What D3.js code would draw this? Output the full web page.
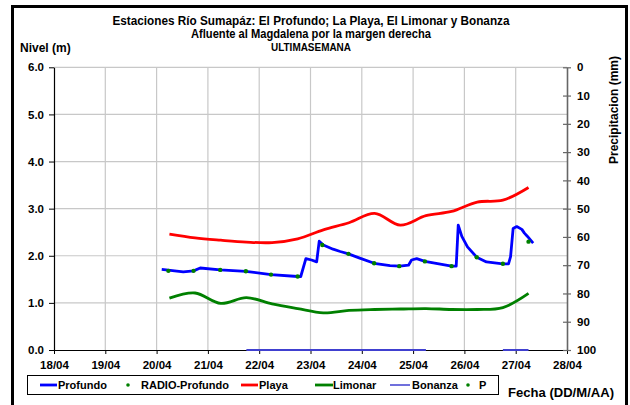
<!DOCTYPE html>
<html><head><meta charset="utf-8">
<script src="https://cdn.jsdelivr.net/npm/d3@7"></script>
<style>body{margin:0;background:#fff}svg{display:block}text{font-family:"Liberation Sans",Arial,sans-serif;font-weight:bold;fill:#000}</style>
</head><body><svg id="c" width="630" height="405"></svg>
<script>
// Days are April day-of-month (fractional)
const xTicks = [18,19,20,21,22,23,24,25,26,27,28];
const yLeftTicks = [0,1,2,3,4,5,6];
const yRightTicks = [0,10,20,30,40,50,60,70,80,90,100];

const profundoDays = [20.10,20.52,20.72,20.85,21.24,21.74,22.23,22.75,22.81,22.91,23.02,23.12,23.17,23.25,23.44,23.58,23.74,23.96,24.24,24.55,24.74,24.91,24.97,25.07,25.23,25.75,25.84,25.88,25.95,26.06,26.24,26.43,26.75,26.86,26.90,26.95,27.02,27.12,27.17,27.23,27.34];
const profundoVals = [1.71,1.66,1.68,1.74,1.70,1.67,1.60,1.56,1.56,1.94,1.91,1.87,2.31,2.23,2.14,2.09,2.04,1.95,1.84,1.79,1.78,1.80,1.91,1.94,1.88,1.78,1.78,2.65,2.41,2.19,1.97,1.87,1.83,1.83,1.98,2.58,2.62,2.56,2.48,2.41,2.27];

const radioDays = [20.23,20.72,21.24,21.74,22.23,22.75,23.23,23.74,24.24,24.73,25.23,25.75,26.24,26.75,27.25];
const radioVals = [1.68,1.68,1.70,1.67,1.60,1.56,2.23,2.04,1.84,1.78,1.88,1.78,1.97,1.83,2.30];

const halfDays = [20.25,20.75,21.25,21.75,22.25,22.75,23.25,23.75,24.25,24.75,25.25,25.75,26.25,26.75,27.25];
const playaVals = [2.46,2.38,2.33,2.29,2.28,2.36,2.55,2.70,2.90,2.65,2.85,2.94,3.14,3.18,3.45];
const limonarVals = [1.10,1.21,0.99,1.11,0.98,0.88,0.79,0.84,0.86,0.87,0.88,0.86,0.86,0.90,1.20];

const bonanzaDays = [21.75,22.25,22.75,23.25,23.75,24.25,24.75,25.25,25.75,26.25,26.75,27.25];
const bonanzaVals = [0,0,0,0,0,0,0,0,null,null,0,0];

const pDays = [];
const pVals = [];

const legendLabels = ["Profundo","RADIO-Profundo","Playa","Limonar","Bonanza","P"];

const svg = d3.select("#c");
const L=54, R=567, T=67.3, B=350;
const x = d3.scaleLinear().domain([18,28]).range([L,R]);
const y = d3.scaleLinear().domain([0,6]).range([B,T]);
const y2 = d3.scaleLinear().domain([0,100]).range([T,B]);

// frame
svg.append("rect").attr("x",12.5).attr("y",6.5).attr("width",614).attr("height",420)
  .attr("fill","none").attr("stroke","#000").attr("stroke-width",3);

// grid
const g = svg.append("g");
g.selectAll(".vg").data(xTicks.slice(1,-1)).join("line")
  .attr("x1",d=>x(d)).attr("x2",d=>x(d)).attr("y1",T).attr("y2",B)
  .attr("stroke","#c8c8c8").attr("stroke-width",1.2);
g.selectAll(".hg").data(yLeftTicks.slice(1)).join("line")
  .attr("x1",L).attr("x2",R).attr("y1",d=>y(d)).attr("y2",d=>y(d))
  .attr("stroke","#c8c8c8").attr("stroke-width",1.2);

// axes
const fmt = d => (d<10?"0":"")+d+"/04";
const xa = svg.append("g").attr("transform",`translate(0,${B})`)
  .call(d3.axisBottom(x).tickValues(xTicks).tickFormat(fmt).tickSize(4).tickSizeOuter(0));
const ya = svg.append("g").attr("transform",`translate(${L},0)`)
  .call(d3.axisLeft(y).tickValues(yLeftTicks).tickFormat(d3.format(".1f")).tickSize(5).tickSizeOuter(0));
const ya2 = svg.append("g").attr("transform",`translate(${R},0)`)
  .call(d3.axisRight(y2).tickValues(yRightTicks).tickSize(4).tickSizeOuter(0));
[xa,ya].forEach(a=>{a.select(".domain").attr("stroke","#000").attr("stroke-width",1.2);
  a.selectAll(".tick line").attr("stroke","#000");
  a.selectAll("text").attr("font-size",11.5).attr("font-family","Liberation Sans, Arial").attr("font-weight","bold").attr("fill","#000");});
xa.selectAll("text").attr("dy","1.05em");
ya.selectAll("text").attr("x",-10);
ya2.select(".domain").attr("stroke","#666").attr("stroke-width",1.6);
ya2.selectAll(".tick line").attr("stroke","#666").attr("x1",-4).attr("x2",4).attr("stroke-width",1.2);
ya2.selectAll("text").attr("font-size",11.5).attr("font-family","Liberation Sans, Arial").attr("font-weight","bold").attr("fill","#000").attr("x",10);

// series
const line = d3.line().defined(d=>d[1]!=null).x(d=>x(d[0])).y(d=>y(d[1]));
const smooth = d3.line().x(d=>x(d[0])).y(d=>y(d[1])).curve(d3.curveCatmullRom.alpha(0.5));
const zip = (a,b)=>a.map((d,i)=>[d,b[i]]);

svg.append("path").datum(zip(bonanzaDays,bonanzaVals)).attr("d",line)
  .attr("fill","none").attr("stroke","#4040d0").attr("stroke-width",2);
svg.append("path").datum(zip(halfDays,playaVals)).attr("d",smooth)
  .attr("fill","none").attr("stroke","#ff0000").attr("stroke-width",2.8);
svg.append("path").datum(zip(halfDays,limonarVals)).attr("d",smooth)
  .attr("fill","none").attr("stroke","#008000").attr("stroke-width",2.8);
svg.append("path").datum(zip(profundoDays,profundoVals)).attr("d",line.curve(d3.curveLinear))
  .attr("fill","none").attr("stroke","#0000ff").attr("stroke-width",2.8).attr("stroke-linejoin","round");
svg.selectAll(".rd").data(zip(radioDays,radioVals)).join("circle")
  .attr("cx",d=>x(d[0])).attr("cy",d=>y(d[1])).attr("r",2.2).attr("fill","#008000");
svg.selectAll(".pd").data(zip(pDays,pVals)).join("circle")
  .attr("cx",d=>x(d[0])).attr("cy",d=>y2(d[1])).attr("r",2).attr("fill","#008000");

// titles
const titles = [["Estaciones Río Sumapáz: El Profundo; La Playa, El Limonar y Bonanza",25,397,12],
  ["Afluente al Magdalena por la margen derecha",37.5,240,12],["ULTIMASEMANA",51,80,11.5]];
titles.forEach(t=>svg.append("text").attr("x",311).attr("y",t[1]).attr("text-anchor","middle")
  .attr("font-size",t[3]).attr("textLength",t[2]).attr("lengthAdjust","spacingAndGlyphs").text(t[0]));
svg.append("text").attr("x",20).attr("y",52).attr("font-size",12).text("Nivel (m)");
svg.append("text").attr("transform","translate(618,110) rotate(-90)").attr("text-anchor","middle")
  .attr("font-size",12).text("Precipitacion (mm)");
svg.append("text").attr("x",508).attr("y",397).attr("font-size",12).attr("textLength",106)
  .attr("lengthAdjust","spacingAndGlyphs").text("Fecha (DD/M/AA)");

// legend
const lg = svg.append("g");
lg.append("rect").attr("x",27.5).attr("y",375.5).attr("width",471).attr("height",19)
  .attr("fill","#fff").attr("stroke","#000").attr("stroke-width",1);
const ly = 385;
const items = [
  {t:"line",c:"#0000ff",w:2.8,x1:40,x2:57,tx:58},
  {t:"dot",c:"#008000",cx:128,tx:141},
  {t:"line",c:"#ff0000",w:2.8,x1:241,x2:258,tx:259},
  {t:"line",c:"#008000",w:2.8,x1:315,x2:333,tx:333},
  {t:"line",c:"#4040d0",w:1.5,x1:390,x2:410,tx:412},
  {t:"dot",c:"#008000",cx:468,tx:479}];
items.forEach((it,i)=>{
  if(it.t==="line") lg.append("line").attr("x1",it.x1).attr("x2",it.x2).attr("y1",ly).attr("y2",ly)
     .attr("stroke",it.c).attr("stroke-width",it.w);
  else lg.append("circle").attr("cx",it.cx).attr("cy",ly).attr("r",1.8).attr("fill",it.c);
  lg.append("text").attr("x",it.tx).attr("y",ly+4).attr("font-size",11).text(legendLabels[i]);
});
</script></body></html>
